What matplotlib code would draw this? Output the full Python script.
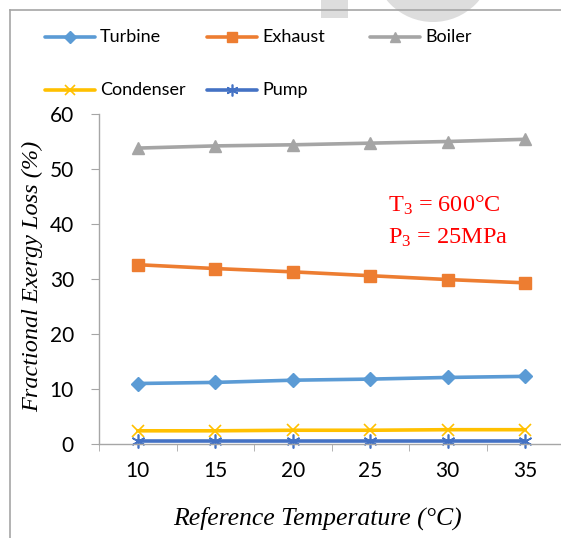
import matplotlib
matplotlib.use("Agg")
import matplotlib.pyplot as plt
from matplotlib.lines import Line2D
from matplotlib.patches import Rectangle, Circle

plt.rcParams["mathtext.fontset"] = "custom"
plt.rcParams["mathtext.rm"] = "Liberation Serif"
plt.rcParams["mathtext.it"] = "Liberation Serif:italic"

categories = ["10", "15", "20", "25", "30", "35"]
turbine = [11.0, 11.2, 11.6, 11.8, 12.1, 12.3]
exhaust = [32.6, 31.9, 31.3, 30.6, 29.9, 29.3]
boiler = [53.8, 54.2, 54.4, 54.7, 55.0, 55.4]
condenser = [2.4, 2.4, 2.5, 2.5, 2.6, 2.6]
pump = [0.5, 0.5, 0.5, 0.5, 0.5, 0.5]

W, H = 561, 538
fig = plt.figure(figsize=(W / 100, H / 100), dpi=100)

def fx(px):
    return px / W

def fy(py):
    return 1 - py / H

# faint watermark shapes
fig.patches.append(Rectangle((fx(321), fy(18)), 27 / W, 18 / H, transform=fig.transFigure,
                             facecolor="#dddddd", edgecolor="none", zorder=0))
circ = Circle((433, H + 38), 60, transform=None, facecolor="#dddddd", edgecolor="none", zorder=0)
fig.patches.append(circ)

# chart frame
fig.add_artist(Line2D([fx(10), fx(10)], [fy(10), 0], color="#a6a6a6", lw=1.2))
fig.add_artist(Line2D([fx(10), 1], [fy(10), fy(10)], color="#a6a6a6", lw=1.2))

ax = fig.add_axes([fx(99), fy(444), 465 / W, 330 / H])
ax.patch.set_alpha(0)
x = list(range(len(categories)))

series = [
    ("Turbine", turbine, "#5b9bd5", "D", 7, dict()),
    ("Exhaust", exhaust, "#ed7d31", "s", 9, dict()),
    ("Boiler", boiler, "#a5a5a5", "^", 9, dict()),
    ("Condenser", condenser, "#ffc000", "x", 9, dict(markeredgewidth=1.2)),
    ("Pump", pump, "#4472c4", (6, 2, 0), 10, dict(markeredgewidth=1.2)),
]
for name, vals, col, mk, ms, kw in series:
    ax.plot(x, vals, color=col, lw=2.6, marker=mk, markersize=ms,
            markerfacecolor=col, markeredgecolor=col, clip_on=False, label=name,
            solid_capstyle="round", **kw)

ax.set_xlim(-0.5, 5.5)
ax.set_ylim(0, 60)
ax.set_yticks([0, 10, 20, 30, 40, 50, 60])
ax.set_xticks(x)
ax.set_xticklabels(categories)
ax.set_xticks([i + 0.5 for i in range(-1, 6)], minor=True)
for s in ["top", "right"]:
    ax.spines[s].set_visible(False)
for s in ["left", "bottom"]:
    ax.spines[s].set_color("#a6a6a6")
    ax.spines[s].set_linewidth(1.0)
ax.tick_params(axis="x", which="major", length=0, pad=12, labelsize=15)
ax.tick_params(axis="x", which="minor", length=5, color="#a6a6a6", direction="out")
ax.tick_params(axis="y", length=6, color="#a6a6a6", labelsize=15, pad=12)
for lab in ax.get_xticklabels() + ax.get_yticklabels():
    lab.set_fontfamily("Lato")

ax.set_ylabel("Fractional Exergy Loss (%)", family="Liberation Serif", style="italic",
              fontsize=17.5, va="center")
ax.yaxis.set_label_coords(-0.142, 0.509)
ax.set_xlabel("Reference Temperature (°C)", family="Liberation Serif", style="italic",
              fontsize=18.5, va="center")
ax.xaxis.set_label_coords(0.469, -0.224)

ax.text(3.23, 43.4, "T$_3$ = 600°C", color="#ff0000", family="Liberation Serif",
        fontsize=17.5, va="center", ha="left")
ax.text(3.23, 37.5, "P$_3$ = 25MPa", color="#ff0000", family="Liberation Serif",
        fontsize=17.5, va="center", ha="left")

leg_pos = [(45, 37), (207, 37), (370, 37), (45, 90), (207, 90)]
for (name, vals, col, mk, ms, kw), (lx, ly) in zip(series, leg_pos):
    fig.add_artist(Line2D([fx(lx), fx(lx + 50)], [fy(ly), fy(ly)], color=col, lw=2.6,
                          solid_capstyle="round"))
    fig.add_artist(Line2D([fx(lx + 25)], [fy(ly)], color=col, marker=mk,
                          markersize=ms * 0.85, markerfacecolor=col, markeredgecolor=col,
                          lw=0, **kw))
    fig.text(fx(lx + 55), fy(ly), name, fontsize=13, family="Lato", va="center", ha="left")

fig.savefig("out.png", dpi=100)
